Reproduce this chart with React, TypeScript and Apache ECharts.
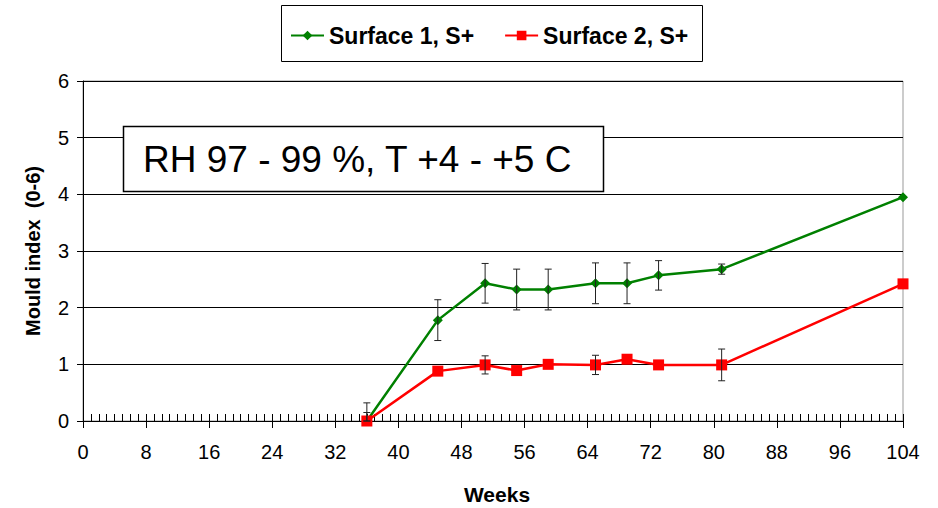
import { useEffect, useRef } from "react";
import * as echarts from "echarts";

const weeks = [36, 45, 51, 55, 59, 65, 69, 73, 81, 104];
const surface1 = [0, 1.78, 2.43, 2.32, 2.32, 2.43, 2.43, 2.57, 2.68, 3.95];
const surface1Err = [0.32, 0.36, 0.35, 0.36, 0.36, 0.36, 0.36, 0.26, 0.09, 0];
const surface2 = [0, 0.88, 0.99, 0.89, 1.0, 0.99, 1.09, 0.99, 0.99, 2.42];
const surface2Err = [0.15, 0, 0.16, 0, 0, 0.17, 0, 0, 0.28, 0];
const xMin = 0;
const xMax = 104;
const xStep = 8;
const yMin = 0;
const yMax = 6;
const yStep = 1;
const series1Name = "Surface 1, S+";
const series2Name = "Surface 2, S+";
const annotation = "RH 97 - 99 %, T +4 - +5 C";
const xTitle = "Weeks";
const yTitle = "Mould index  (0-6)";

const FONT = "'Liberation Sans', Arial, Helvetica, sans-serif";

function errData(vals: number[], errs: number[]) {
  const out: number[][] = [];
  for (let i = 0; i < weeks.length; i++) {
    if (errs[i] > 0) {
      out.push([weeks[i], Math.max(yMin, vals[i] - errs[i]), vals[i] + errs[i]]);
    }
  }
  return out;
}

export default function App() {
  const ref = useRef<HTMLDivElement>(null);
  useEffect(() => {
    if (!ref.current) return;
    const chart = echarts.init(ref.current, null, { renderer: "svg" });
    const gridPos = { left: 83, right: 35, top: 81, bottom: 87 };
    const renderErr = (params: any, api: any) => {
      const x = api.value(0);
      const lo = api.value(1);
      const hi = api.value(2);
      const pHi = api.coord([x, hi]);
      const pLo = api.coord([x, lo]);
      const w = 3.5;
      const style = { stroke: "#222", lineWidth: 1 };
      return {
        type: "group",
        children: [
          { type: "line", shape: { x1: pHi[0], y1: pHi[1], x2: pLo[0], y2: pLo[1] }, style },
          { type: "line", shape: { x1: pHi[0] - w, y1: pHi[1], x2: pHi[0] + w, y2: pHi[1] }, style },
          { type: "line", shape: { x1: pLo[0] - w, y1: pLo[1], x2: pLo[0] + w, y2: pLo[1] }, style },
        ],
      };
    };
    chart.setOption({
      animation: false,
      backgroundColor: "#fff",
      textStyle: { fontFamily: FONT },
      grid: [
        { ...gridPos, show: true, borderColor: "#999", borderWidth: 1, backgroundColor: "transparent" },
        { ...gridPos, show: false },
      ],
      legend: {
        left: 285,
        top: 19,
        z: 20,
        itemWidth: 33,
        itemHeight: 12,
        itemGap: 30,
        data: [series1Name, series2Name],
        textStyle: { fontFamily: FONT, fontSize: 23, fontWeight: "bold", color: "#000" },
      },
      xAxis: [
        {
          type: "value",
          gridIndex: 0,
          min: xMin,
          max: xMax,
          interval: xStep,
          axisLine: { show: true, lineStyle: { color: "#000", width: 1 } },
          axisTick: { show: true, inside: false, length: 7, lineStyle: { color: "#000" } },
          axisLabel: { fontFamily: FONT, fontSize: 20, color: "#000", margin: 21 },
          splitLine: { show: false },
        },
        {
          type: "value",
          gridIndex: 1,
          min: xMin,
          max: xMax,
          interval: xStep,
          axisLine: { show: false },
          axisTick: { show: true, inside: true, length: 7, lineStyle: { color: "#000" } },
          minorTick: { show: true, splitNumber: 8, length: 7, lineStyle: { color: "#000" } },
          axisLabel: { show: false },
          splitLine: { show: false },
        },
      ],
      yAxis: [
        {
          type: "value",
          gridIndex: 0,
          min: yMin,
          max: yMax,
          interval: yStep,
          axisLine: { show: true, lineStyle: { color: "#000", width: 1 } },
          axisTick: { show: true, inside: false, length: 6, lineStyle: { color: "#000" } },
          axisLabel: { fontFamily: FONT, fontSize: 20, color: "#000", margin: 14 },
          splitLine: { show: true, lineStyle: { color: "#000", width: 1 } },
        },
        {
          type: "value",
          gridIndex: 1,
          min: yMin,
          max: yMax,
          show: false,
        },
      ],
      series: [
        {
          name: series1Name,
          type: "line",
          xAxisIndex: 0,
          yAxisIndex: 0,
          data: weeks.map((w, i) => [w, surface1[i]]),
          color: "#008000",
          lineStyle: { width: 2.5, color: "#008000" },
          symbol: "diamond",
          symbolSize: 10,
          itemStyle: { color: "#008000" },
          z: 4,
        },
        {
          name: series2Name,
          type: "line",
          xAxisIndex: 0,
          yAxisIndex: 0,
          data: weeks.map((w, i) => [w, surface2[i]]),
          color: "#ff0000",
          lineStyle: { width: 2.5, color: "#ff0000" },
          symbol: "rect",
          symbolSize: 11,
          itemStyle: { color: "#ff0000" },
          z: 4,
        },
        {
          type: "custom",
          xAxisIndex: 0,
          yAxisIndex: 0,
          renderItem: renderErr,
          data: errData(surface1, surface1Err),
          z: 5,
          silent: true,
        },
        {
          type: "custom",
          xAxisIndex: 0,
          yAxisIndex: 0,
          renderItem: renderErr,
          data: errData(surface2, surface2Err),
          z: 5,
          silent: true,
        },
      ],
      graphic: [
        {
          type: "rect",
          z: 1,
          shape: { x: 281.5, y: 5.5, width: 421, height: 56 },
          style: { fill: "transparent", stroke: "#000", lineWidth: 1 },
          silent: true,
        },
        {
          type: "rect",
          z: 100,
          shape: { x: 123.5, y: 126.5, width: 480, height: 65 },
          style: { fill: "#fff", stroke: "#000", lineWidth: 1.5 },
        },
        {
          type: "text",
          z: 101,
          x: 143,
          y: 159,
          style: {
            text: annotation,
            font: `37px ${FONT}`,
            fill: "#000",
            textVerticalAlign: "middle",
            textAlign: "left",
          },
        },
        {
          type: "text",
          z: 101,
          x: 497,
          y: 494,
          style: {
            text: xTitle,
            font: `bold 21px ${FONT}`,
            fill: "#000",
            textAlign: "center",
            textVerticalAlign: "middle",
          },
        },
        {
          type: "text",
          z: 101,
          x: 33,
          y: 251,
          rotation: Math.PI / 2,
          style: {
            text: yTitle,
            font: `bold 20px ${FONT}`,
            fill: "#000",
            textAlign: "center",
            textVerticalAlign: "middle",
          },
        },
      ],
    });
    return () => chart.dispose();
  }, []);
  return <div ref={ref} style={{ width: 938, height: 508, position: "absolute", left: 0, top: 0 }} />;
}
